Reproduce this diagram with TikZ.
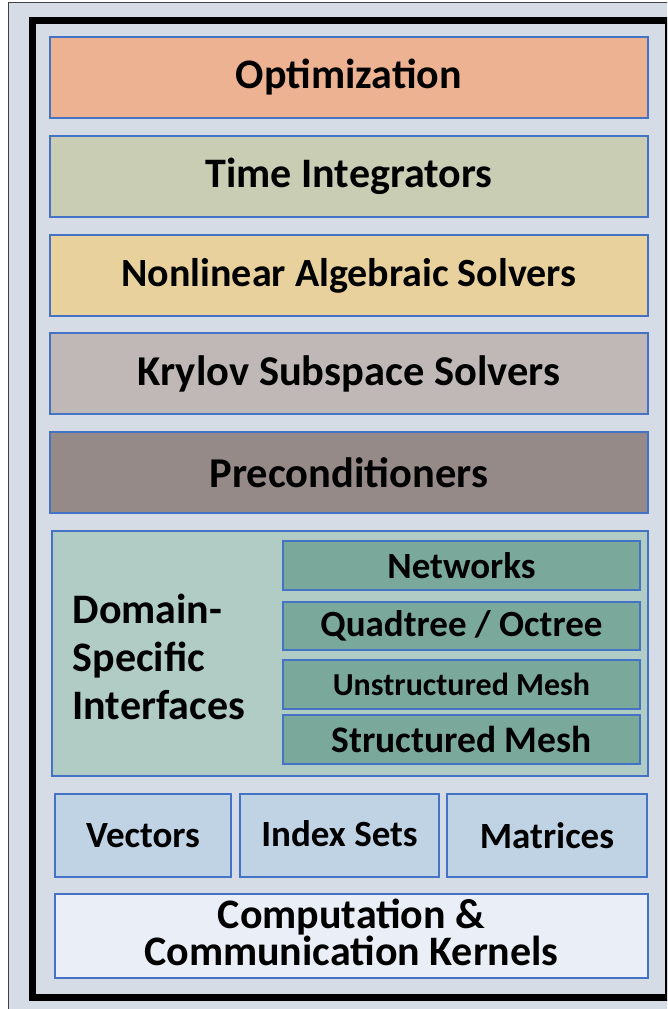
\documentclass[tikz,border=0pt]{standalone}
\usepackage{fontspec}
\setmainfont{Carlito}
\usepackage{tikz}
\usetikzlibrary{positioning}

\definecolor{bgfill}{HTML}{D6DCE5}
\definecolor{boxline}{HTML}{4472C4}
\definecolor{optfill}{HTML}{EDB292}
\definecolor{tifill}{HTML}{C9CDB4}
\definecolor{nlfill}{HTML}{E8D19D}
\definecolor{krfill}{HTML}{BFB8B7}
\definecolor{pcfill}{HTML}{958A88}
\definecolor{domfill}{HTML}{B0CCC4}
\definecolor{subfill}{HTML}{7AA89A}
\definecolor{objfill}{HTML}{C0D3E4}
\definecolor{kerfill}{HTML}{EAEFF7}

% font size and line skip, in pt
\newcommand{\fsz}[2]{\fontsize{#1}{#2}\selectfont\bfseries}

\begin{document}
\begin{tikzpicture}[x=1pt, y=-1pt, line width=1.2pt]
   \useasboundingbox (0,0) rectangle (667,1009);
   \clip (0,0) rectangle (667,1009);
   % frame
   \draw[fill=bgfill, draw=black!75, line width=1pt] (8,2) rectangle (690,1030);
   \draw[line width=7.5pt] (32.5,20.5) rectangle (669,997.5);

   \begin{scope}[every node/.style={rectangle,draw=boxline,inner sep=0pt,text=black}]
    \node (opt) at (349,77.5) [fill=optfill, minimum width=598, minimum height=81, font=\fsz{42}{48}] {Optimization};
    \node (ti) at (349,176.5) [fill=tifill, minimum width=598, minimum height=81, font=\fsz{42}{48}] {Time Integrators};
    \node (nl) at (349,275.5) [fill=nlfill, minimum width=598, minimum height=81, font=\fsz{40}{48}] {Nonlinear Algebraic Solvers};
    \node (kr) at (349,373.5) [fill=krfill, minimum width=598, minimum height=81, font=\fsz{42.5}{48}] {Krylov Subspace Solvers};
    \node (pc) at (349,472.5) [fill=pcfill, minimum width=598, minimum height=81, font=\fsz{42.5}{48}] {Preconditioners};
    \node (dom) at (350,653.5) [fill=domfill, minimum width=596, minimum height=245] {};
    \node (net) at (461.5,565.5) [fill=subfill, minimum width=357, minimum height=49, font=\fsz{37}{44}] {Networks};
    \node (qo) at (461.5,626) [fill=subfill, minimum width=357, minimum height=48, font=\fsz{37}{44}] {Quadtree / Octree};
    \node (um) at (461.5,684.5) [fill=subfill, minimum width=357, minimum height=49, font=\fsz{32}{40}] {Unstructured Mesh};
    \node (sm) at (461.5,739.5) [fill=subfill, minimum width=357, minimum height=49, font=\fsz{37.5}{44}] {Structured Mesh};
    \node (vec) at (143,835.5) [fill=objfill, minimum width=176, minimum height=83, font=\fsz{37}{44}] {Vectors};
    \node (idx) at (339.5,835.5) [fill=objfill, minimum width=199, minimum height=83, font=\fsz{37}{44}] {\raisebox{4pt}{Index Sets}};
    \node (mat) at (547,835.5) [fill=objfill, minimum width=200, minimum height=83, font=\fsz{37}{44}] {Matrices};
    \node (ker) at (351.5,936) [fill=kerfill, minimum width=593, minimum height=84, align=center, text depth=8pt, font=\fsz{42}{37.5}] {Computation \&\\Communication Kernels};
   \end{scope}

   \node (domtxt) at (72,657) [anchor=west, align=left, inner sep=0pt, font=\fsz{42}{48}] {Domain-\\Specific\\Interfaces};
\end{tikzpicture}
\end{document}
